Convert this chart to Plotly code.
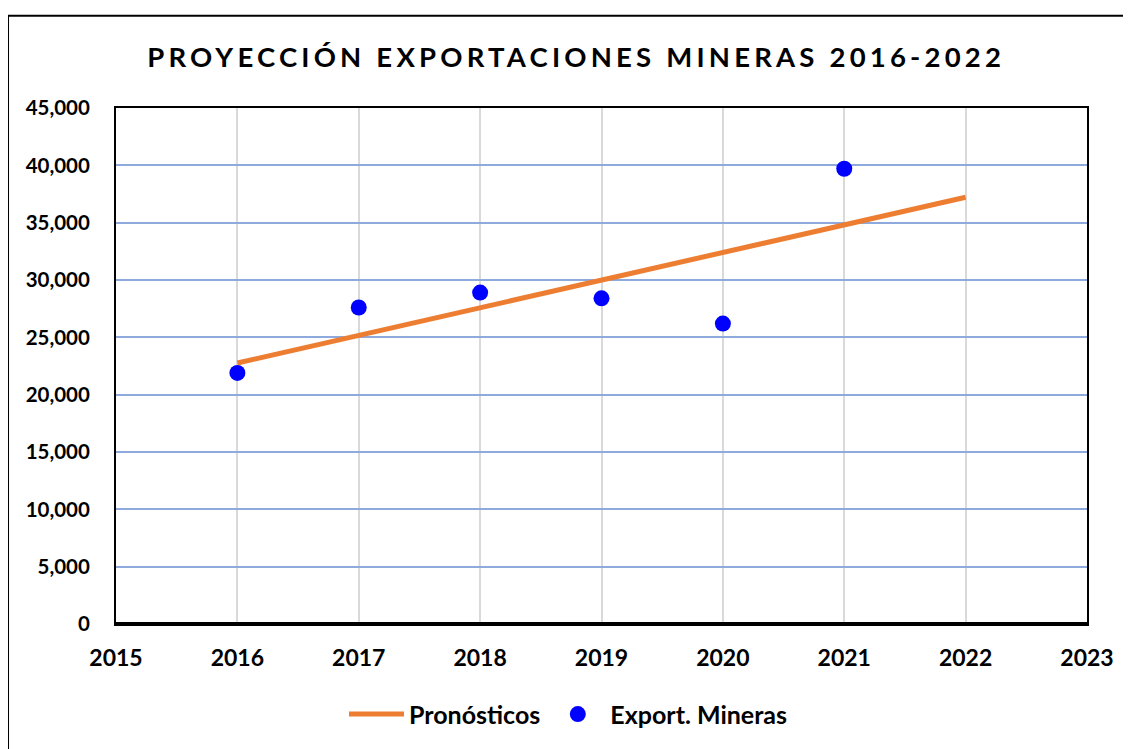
import plotly.graph_objects as go

# datos
years_obs = [2016, 2017, 2018, 2019, 2020, 2021]
export_mineras = [21900, 27600, 28900, 28400, 26200, 39700]

years_fc = [2016, 2017, 2018, 2019, 2020, 2021, 2022]
pronosticos = [22760, 25170, 27580, 29990, 32400, 34810, 37220]

x_ticks = [2015, 2016, 2017, 2018, 2019, 2020, 2021, 2022, 2023]

FONT = "Lato"

fig = go.Figure()

fig.add_trace(go.Scatter(
    x=years_fc, y=pronosticos, mode="lines", name="Pronósticos",
    line=dict(color="#ED7D31", width=5),
))
fig.add_trace(go.Scatter(
    x=years_obs, y=export_mineras, mode="markers", name="Export. Mineras",
    marker=dict(color="#0000FF", size=16),
))

# la pagina html tiene 8px de margen en el body
fig.update_layout(
    width=1123, height=741,
    margin=dict(l=108, r=44, t=100, b=121),
    paper_bgcolor="white", plot_bgcolor="white",
    font=dict(family=FONT, size=18, color="black", weight="bold"),
    title=dict(
        text='<span style="letter-spacing:4.2px">PROYECCIÓN EXPORTACIONES MINERAS 2016-2022</span>',
        x=0.506, y=0.934, xref="container", yref="container",
        xanchor="center", yanchor="middle",
        font=dict(family=FONT, size=27.5, color="black", weight="bold"),
    ),
    showlegend=True,
    legend=dict(
        orientation="h", x=0.466, y=-0.175, xanchor="center", yanchor="middle",
        font=dict(family=FONT, size=25, color="black", weight="bold"),
        itemwidth=55, bgcolor="rgba(0,0,0,0)",
    ),
)

fig.update_xaxes(
    range=[2015, 2023], tickvals=x_ticks, ticks="",
    showgrid=True, gridcolor="#D9D9D9", gridwidth=2,
    showline=True, linecolor="black", linewidth=2, mirror=True,
    zeroline=False, tickfont=dict(size=23), ticklabelstandoff=12,
)
fig.update_yaxes(
    range=[0, 45000], dtick=5000, tickformat=",", ticks="",
    showgrid=True, gridcolor="#8EA9DB", gridwidth=2,
    showline=True, linecolor="black", linewidth=2, mirror=True,
    zeroline=False, tickfont=dict(size=20.5), ticklabelstandoff=20,
)

# eje inferior mas grueso
fig.add_shape(type="line", xref="paper", yref="paper", x0=0, x1=1, y0=0, y1=0,
              line=dict(color="black", width=4))

# borde del area del grafico (izquierda y arriba)
fig.add_shape(type="line", xref="paper", yref="paper",
              x0=-0.1112, x1=1.2, y0=1.1788, y1=1.1788,
              line=dict(color="black", width=2))
fig.add_shape(type="line", xref="paper", yref="paper",
              x0=-0.1112, x1=-0.1112, y0=1.1788, y1=-0.3,
              line=dict(color="black", width=2))

fig.write_html("out.html")
